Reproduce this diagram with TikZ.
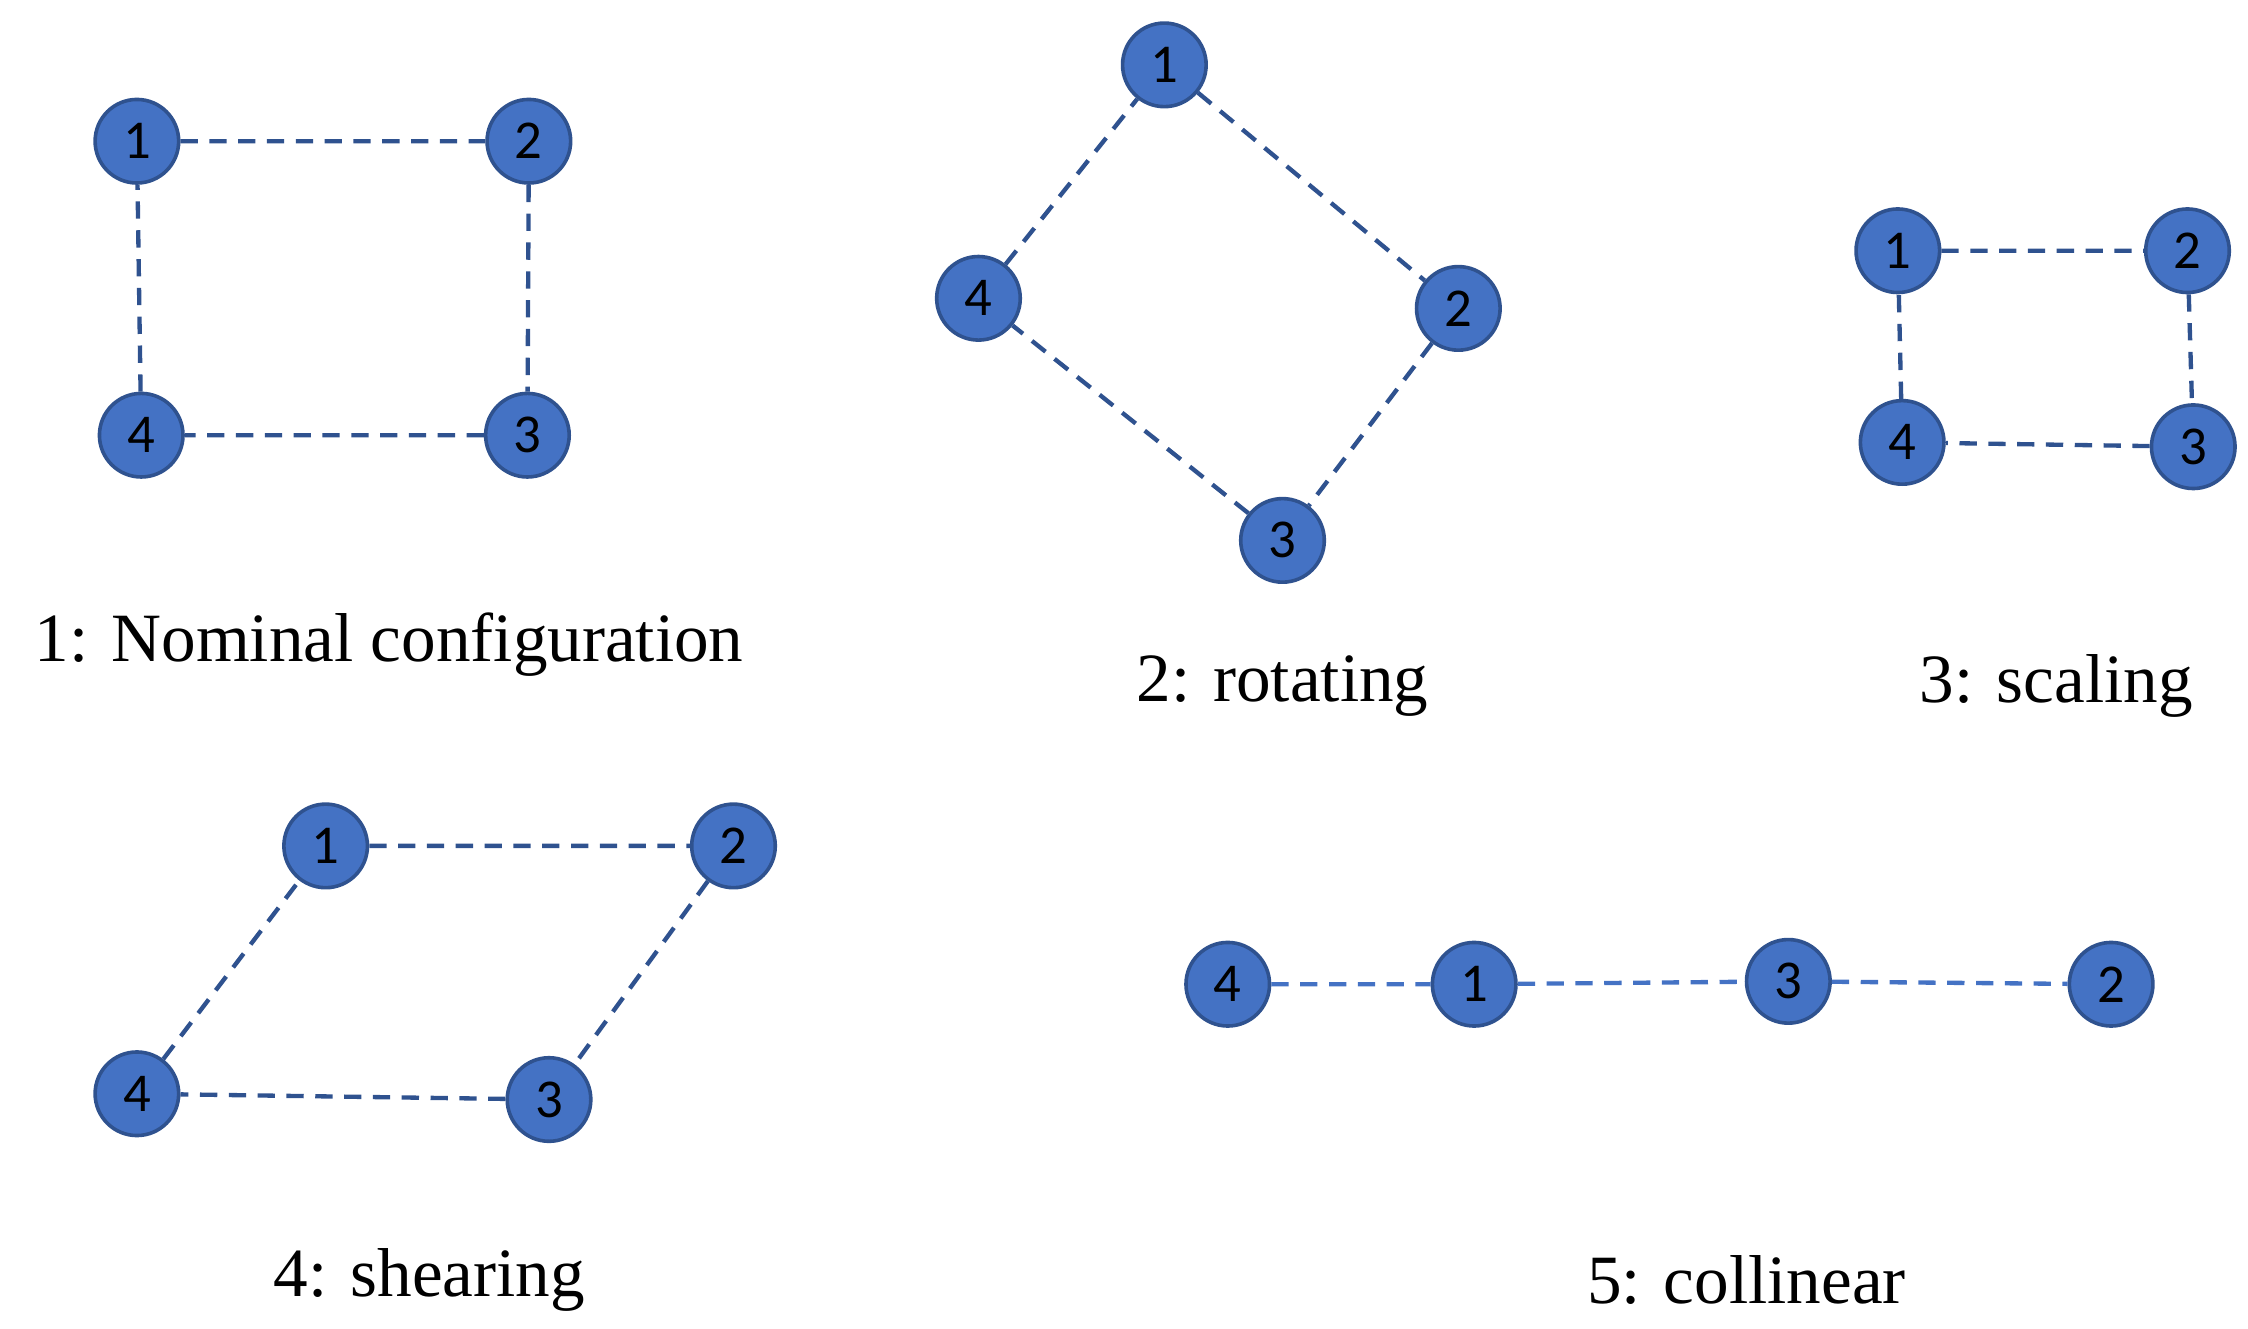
\documentclass[tikz,border=0pt]{standalone}
\usepackage{fontspec}
\setmainfont{Liberation Serif}
\newfontfamily\numfont{Carlito}
\definecolor{nfill}{HTML}{4472C4}
\definecolor{nedge}{HTML}{2F528F}
\begin{document}
\begin{tikzpicture}[x=1pt,y=-1pt,
  v/.style={circle,fill=nfill,draw=nedge,line width=2.5pt,minimum size=58pt,inner sep=0pt,font=\numfont\fontsize{38}{40}\selectfont},
  e/.style={draw=nedge,line width=3pt,dash pattern=on 12pt off 8pt},
  e2/.style={draw=nfill,line width=3pt,dash pattern=on 12pt off 8pt},
  lab/.style={font=\fontsize{48}{52}\selectfont}]
\useasboundingbox (0,0) rectangle (1560,922);
% panel 1
\node[v] (a1) at (95,98) {1};
\node[v] (a2) at (367,98) {2};
\node[v] (a4) at (98,302) {4};
\node[v] (a3) at (366,302) {3};
\draw[e] (a1)--(a2) (a2)--(a3) (a3)--(a4) (a4)--(a1);
\node[lab] (l1) at (270,447) {1: Nominal configuration};
% panel 2
\node[v] (b1) at (808,45) {1};
\node[v] (b2) at (1012,214) {2};
\node[v] (b4) at (679,207) {4};
\node[v] (b3) at (890,375) {3};
\draw[e] (b1)--(b2) (b2)--(b3) (b3)--(b4) (b4)--(b1);
\node[lab] (l2) at (890,476) {2: rotating};
% panel 3
\node[v] (c1) at (1317,174) {1};
\node[v] (c2) at (1518,174) {2};
\node[v] (c4) at (1320,307) {4};
\node[v] (c3) at (1522,310) {3};
\draw[e] (c1)--(c2) (c2)--(c3) (c3)--(c4) (c4)--(c1);
\node[lab] (l3) at (1427,476) {3: scaling};
% panel 4
\node[v] (d1) at (226,587) {1};
\node[v] (d2) at (509,587) {2};
\node[v] (d4) at (95,759) {4};
\node[v] (d3) at (381,763) {3};
\draw[e] (d1)--(d2) (d2)--(d3) (d3)--(d4) (d4)--(d1);
\node[lab] (l4) at (298,888) {4: shearing};
% panel 5
\node[v] (f4) at (852,683) {4};
\node[v] (f1) at (1023,683) {1};
\node[v] (f3) at (1241,681) {3};
\node[v] (f2) at (1465,683) {2};
\draw[e2] (f4)--(f1) (f1)--(f3) (f3)--(f2);
\node[lab] (l5) at (1212,888) {5: collinear};
\end{tikzpicture}
\end{document}
